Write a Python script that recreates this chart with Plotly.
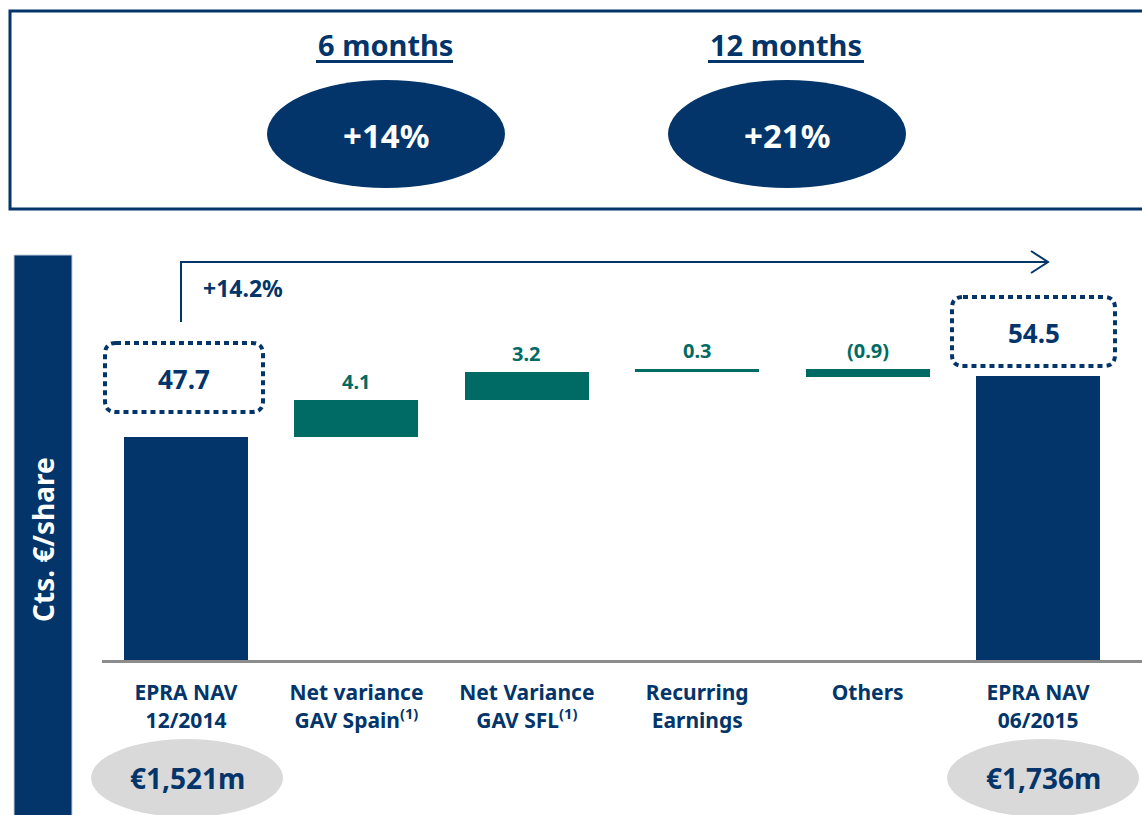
import plotly.graph_objects as go

# ---------------- data ----------------
categories = ["EPRA NAV<br>12/2014", "Net variance<br>GAV Spain<sup>(1)</sup>",
              "Net Variance<br>GAV SFL<sup>(1)</sup>", "Recurring<br>Earnings",
              "Others", "EPRA NAV<br>06/2015"]
values = [47.7, 4.1, 3.2, 0.3, -0.9, 54.5]
measures = ["absolute", "relative", "relative", "relative", "relative", "total"]
value_labels = ["47.7", "4.1", "3.2", "0.3", "(0.9)", "54.5"]
growth_label = "+14.2%"
period_titles = ["6 months", "12 months"]
period_growth = ["+14%", "+21%"]
nav_millions = ["€1,521m", "€1,736m"]
axis_title = "Cts. €/share"

NAVY = "#03356a"
TEAL = "#006b65"
GRAY_LINE = "#8c8c8c"
GRAY_FILL = "#d9d9d9"
FONT = "Noto Sans"

W, H = 1142, 815
L, R, T, B = 102, 0, 250, 155

def px(x):
    return (x - L) / (W - L - R)

def py(y):
    return (H - B - y) / (H - T - B)

# waterfall bases
bases, heights, colors = [], [], []
running = 0.0
for v, m in zip(values, measures):
    if m in ("absolute", "total"):
        bases.append(0)
        heights.append(v)
        colors.append(NAVY)
        running = v
    else:
        bases.append(running)
        heights.append(v)
        colors.append(TEAL)
        running += v

fig = go.Figure()
fig.add_trace(go.Bar(x=categories, y=heights, base=bases, marker_color=colors,
                     marker_line_width=0, width=0.728, hoverinfo="skip"))

annotations = []
shapes = []

def note(xp, yp, text, size, color, **kw):
    d = dict(x=px(xp), y=py(yp), xref="paper", yref="paper", text="<b>%s</b>" % text,
             showarrow=False, xanchor="center", yanchor="middle",
             font=dict(family=FONT, size=size, color=color))
    d.update(kw)
    annotations.append(d)

# delta labels above teal bars
for c, b, h, m, lab in zip(categories, bases, heights, measures, value_labels):
    if m == "relative":
        top = max(b, b + h)
        annotations.append(dict(x=c, y=top, xref="x", yref="y", text="<b>%s</b>" % lab,
                                showarrow=False, xanchor="center", yanchor="bottom", yshift=3,
                                font=dict(family=FONT, size=20, color=TEAL)))

# dotted rounded boxes around totals
def rrect(x0, y0, x1, y1, r):
    rx = r / (W - L - R)
    ry = r / (H - T - B)
    X0, X1 = px(x0), px(x1)
    Y0, Y1 = py(y1), py(y0)  # bottom, top in paper
    return (f"M {X0+rx},{Y1} L {X1-rx},{Y1} Q {X1},{Y1} {X1},{Y1-ry} "
            f"L {X1},{Y0+ry} Q {X1},{Y0} {X1-rx},{Y0} L {X0+rx},{Y0} "
            f"Q {X0},{Y0} {X0},{Y0+ry} L {X0},{Y1-ry} Q {X0},{Y1} {X0+rx},{Y1} Z")

box_px = [(105, 343, 263, 412), (952, 297, 1115, 366)]
total_idx = [i for i, m in enumerate(measures) if m != "relative"]
for (bx0, by0, bx1, by1), i in zip(box_px, total_idx):
    shapes.append(dict(type="path", xref="paper", yref="paper", path=rrect(bx0, by0, bx1, by1, 11),
                       line=dict(color=NAVY, width=4, dash="5px,4px")))
    note((bx0 + bx1) / 2, (by0 + by1) / 2 + 1, value_labels[i], 26, NAVY)

# growth arrow
shapes.append(dict(type="path", xref="paper", yref="paper",
                   path=f"M {px(181)},{py(322)} L {px(181)},{py(262)} L {px(1047)},{py(262)}",
                   line=dict(color=NAVY, width=2)))
shapes.append(dict(type="path", xref="paper", yref="paper",
                   path=f"M {px(1031)},{py(251)} L {px(1048)},{py(262)} L {px(1031)},{py(273)}",
                   line=dict(color=NAVY, width=2)))
note(243, 288, growth_label, 23, NAVY)

# top box
shapes.append(dict(type="rect", xref="paper", yref="paper", x0=px(10), x1=px(1160),
                   y0=py(209), y1=py(11), line=dict(color=NAVY, width=3)))
for cx, title, g in zip([385, 786], period_titles, period_growth):
    note(cx, 44, title, 29, NAVY)
    shapes.append(dict(type="circle", xref="paper", yref="paper",
                       x0=px(cx - 118), x1=px(cx + 120), y0=py(188), y1=py(80),
                       fillcolor=NAVY, line=dict(width=0)))
    note(cx + 1, 135, g, 33, "white")
# underlines
for x0, x1 in [(316, 453), (708, 864)]:
    shapes.append(dict(type="line", xref="paper", yref="paper", x0=px(x0), x1=px(x1),
                       y0=py(61.5), y1=py(61.5), line=dict(color=NAVY, width=3)))

# left vertical band
shapes.append(dict(type="rect", xref="paper", yref="paper", x0=px(14), x1=px(72),
                   y0=py(830), y1=py(255), fillcolor=NAVY, line=dict(color="#c5cfdc", width=1)))
note(43, 540, axis_title, 28, "white", textangle=-90)

# bottom grey ellipses
for cx, t in zip([187, 1043], nav_millions):
    shapes.append(dict(type="circle", xref="paper", yref="paper",
                       x0=px(cx - 96), x1=px(cx + 96), y0=py(817), y1=py(739),
                       fillcolor=GRAY_FILL, line=dict(width=0), layer="below"))
    note(cx, 778, t, 28, NAVY)

fig.update_layout(
    width=W, height=H,
    margin=dict(l=L, r=R, t=T, b=B, pad=0),
    paper_bgcolor="white", plot_bgcolor="white",
    showlegend=False, bargap=0,
    shapes=shapes, annotations=annotations,
    font=dict(family=FONT, color=NAVY),
)
fig.update_xaxes(type="category", categoryorder="array", categoryarray=categories,
                 range=[-0.493, 5.61], showline=True, linecolor=GRAY_LINE, linewidth=3,
                 ticks="", showgrid=False, zeroline=False, ticklabelstandoff=12,
                 tickfont=dict(family=FONT, size=21, color=NAVY, weight="bold"))
fig.update_yaxes(range=[22.84, 68.55], visible=False, showgrid=False, zeroline=False)

fig.write_html("out.html", config={"displayModeBar": False},
               post_script="document.body.style.margin='0';document.body.style.overflow='hidden';")
